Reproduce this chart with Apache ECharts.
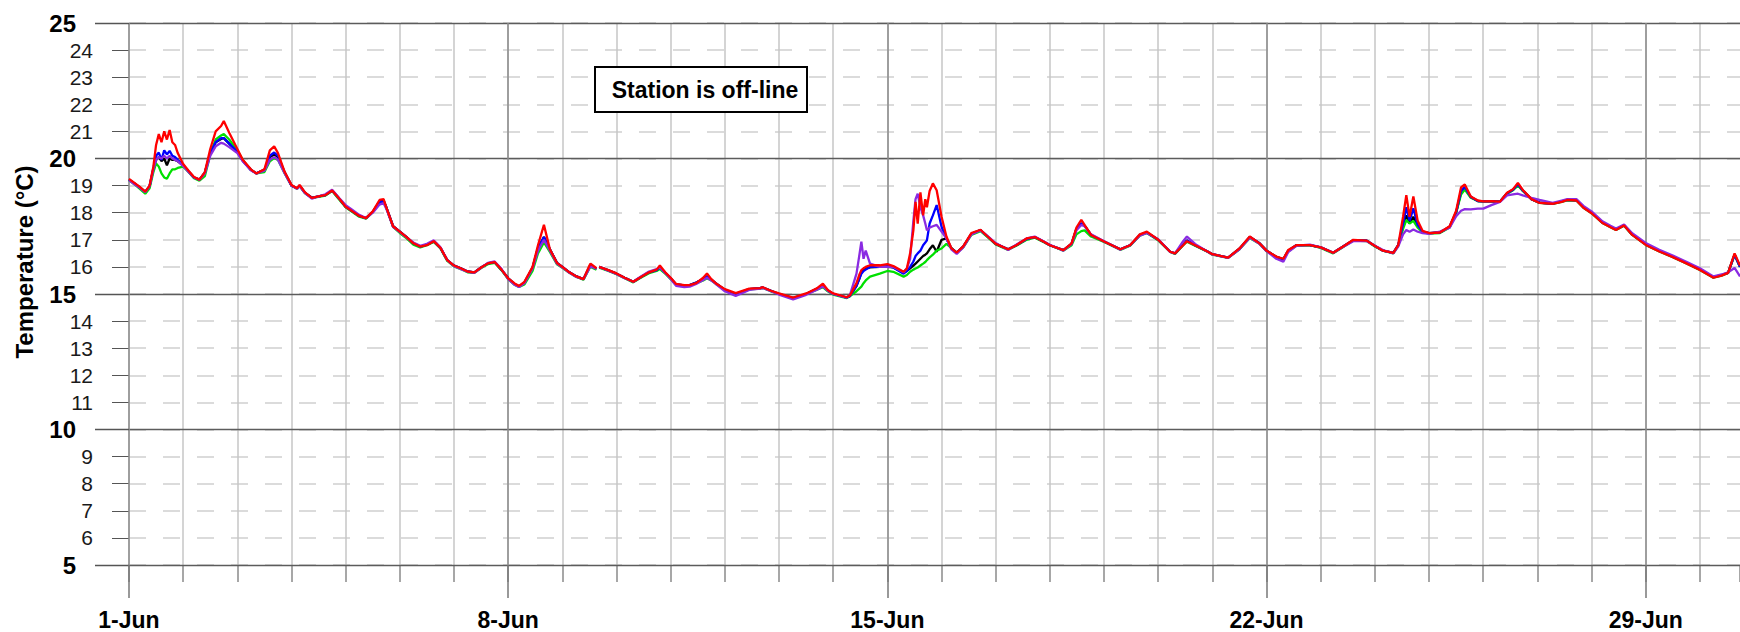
<!DOCTYPE html>
<html>
<head>
<meta charset="utf-8">
<script src="https://cdn.jsdelivr.net/npm/echarts@6/dist/echarts.min.js"></script>
<style>
html,body{margin:0;padding:0;background:#fff;}
#c{width:1740px;height:632px;}
</style>
</head>
<body>
<div id="c"></div>
<script>
// ---- data (days after 1-Jun 00:00, temperature in °C) ----
const days = [
0,0.1,0.2,0.3,0.38,0.45,0.5,0.55,0.6,0.65,
0.7,0.75,0.8,0.85,0.9,1.0,1.1,1.2,1.3,1.4,
1.5,1.6,1.7,1.75,1.85,2.0,2.1,2.25,2.35,2.5,
2.6,2.68,2.75,2.875,3.0,3.1,3.15,3.25,3.375,3.5,
3.625,3.75,3.875,4.0,4.125,4.25,4.375,4.5,4.625,4.7,
4.75,4.875,5.0,5.125,5.25,5.375,5.5,5.625,5.75,5.875,
6.0,6.125,6.25,6.375,6.5,6.625,6.75,6.875,7.0,7.125,
7.2,7.3,7.45,7.55,7.66,7.77,7.9,8.0,8.13,8.26,
8.39,8.5,8.52,8.63,8.655,8.68,8.85,9.0,9.15,9.31,
9.43,9.6,9.74,9.8,9.9,10.0,10.1,10.25,10.35,10.47,
10.6,10.67,10.75,10.83,11.0,11.2,11.45,11.65,11.7,11.85,
12.0,12.26,12.5,12.69,12.81,12.9,13.0,13.25,13.31,13.43,
13.48,13.52,13.56,13.6,13.68,13.86,14.0,14.11,14.3,14.36,
14.42,14.48,14.52,14.56,14.61,14.66,14.7,14.73,14.78,14.84,
14.91,15.0,15.09,15.18,15.28,15.4,15.55,15.72,15.84,16.0,
16.23,16.38,16.57,16.72,16.88,17.0,17.25,17.4,17.49,17.58,
17.64,17.76,18.0,18.3,18.48,18.66,18.79,19.0,19.22,19.31,
19.46,19.53,19.68,19.92,20.0,20.29,20.5,20.69,20.87,21.0,
21.18,21.31,21.4,21.55,21.8,22.0,22.23,22.45,22.6,22.85,
23.0,23.15,23.34,23.43,23.52,23.58,23.64,23.71,23.79,23.88,
24.0,24.2,24.38,24.5,24.59,24.66,24.77,24.9,25.0,25.15,
25.31,25.44,25.55,25.64,25.73,25.89,26.04,26.28,26.45,26.55,
26.72,26.85,27.0,27.2,27.35,27.45,27.6,27.75,28.0,28.25,
28.5,28.75,29.0,29.25,29.4,29.52,29.64,29.74
];

const red = [
19.25,19.1,18.95,18.78,19.0,19.7,20.5,20.9,20.6,21.0,
20.7,21.05,20.6,20.5,20.2,19.8,19.55,19.32,19.22,19.5,
20.35,21.0,21.2,21.38,20.95,20.35,19.95,19.6,19.45,19.6,
20.3,20.45,20.2,19.5,19.02,18.9,19.02,18.75,18.55,18.6,
18.65,18.82,18.53,18.22,18.05,17.88,17.8,18.05,18.47,18.5,
18.2,17.5,17.3,17.1,16.87,16.75,16.8,16.95,16.7,16.25,
16.05,15.95,15.83,15.8,15.98,16.13,16.18,15.9,15.58,15.38,
15.3,15.45,16.0,16.8,17.55,16.65,16.15,16.0,15.8,15.65,
15.55,16.05,16.12,15.95,null,16.0,15.88,15.76,15.6,15.45,
15.6,15.8,15.9,16.05,15.8,15.6,15.37,15.33,15.33,15.4,
15.6,15.76,15.55,15.4,15.18,15.03,15.2,15.22,15.25,15.12,
15.02,14.87,15.02,15.2,15.38,15.15,15.02,14.88,14.95,15.4,
15.7,15.88,15.95,16.0,16.06,16.06,16.1,16.03,15.82,15.94,
16.5,17.35,18.4,17.6,18.75,17.9,18.5,18.2,18.8,19.08,
18.83,17.85,17.12,16.69,16.53,16.76,17.25,17.37,17.14,16.85,
16.65,16.8,17.05,17.1,16.94,16.8,16.62,16.87,17.45,17.74,
17.55,17.18,16.94,16.65,16.8,17.2,17.3,17.0,16.56,16.5,
16.8,16.95,16.8,16.56,16.47,16.34,16.68,17.12,16.87,16.6,
16.38,16.3,16.62,16.8,16.8,16.72,16.52,16.8,17.0,16.97,
16.77,16.6,16.52,16.8,17.85,18.65,17.85,18.6,17.7,17.33,
17.25,17.27,17.5,18.07,18.93,19.04,18.6,18.45,18.42,18.43,
18.41,18.74,18.87,19.1,18.84,18.5,18.36,18.33,18.4,18.47,
18.45,18.18,17.98,17.62,17.46,17.36,17.53,17.18,16.81,16.57,
16.36,16.13,15.89,15.6,15.68,15.78,16.5,16.05
];

const purple = [
19.2,19.05,18.92,18.76,18.98,19.6,19.95,20.05,20.0,20.1,
20.0,20.1,20.0,19.95,19.9,19.72,19.5,19.3,19.22,19.45,
20.1,20.45,20.58,20.55,20.42,20.2,19.9,19.57,19.45,19.55,
19.95,20.05,19.95,19.45,19.0,18.88,18.98,18.72,18.52,18.6,
18.68,18.85,18.55,18.28,18.1,17.92,17.8,18.0,18.3,18.35,
18.15,17.48,17.28,17.08,16.9,16.78,16.85,16.98,16.72,16.25,
16.03,15.92,15.82,15.78,15.97,16.15,16.2,15.93,15.55,15.33,
15.26,15.4,15.95,16.6,17.0,16.6,16.12,15.98,15.78,15.63,
15.55,15.95,16.02,15.93,null,16.0,15.86,15.74,15.58,15.45,
15.62,15.83,15.92,15.98,15.78,15.55,15.3,15.25,15.27,15.37,
15.52,15.6,15.5,15.37,15.1,14.93,15.15,15.2,15.22,15.1,
14.98,14.8,14.97,15.15,15.28,15.12,15.0,14.87,14.97,15.75,
16.4,16.93,16.3,16.6,16.12,16.0,16.0,16.0,15.8,15.95,
16.3,17.7,18.5,18.7,18.2,17.9,17.6,17.35,17.45,17.5,
17.55,17.3,17.05,16.65,16.48,16.72,17.2,17.35,17.15,16.88,
16.62,16.82,17.05,17.12,16.95,16.82,16.6,16.85,17.35,17.55,
17.5,17.2,16.95,16.63,16.8,17.15,17.25,17.02,16.55,16.5,
16.95,17.12,16.85,16.55,16.46,16.33,16.65,17.08,16.85,16.58,
16.3,16.19,16.55,16.78,16.82,16.72,16.52,16.78,16.95,16.95,
16.78,16.62,16.5,16.75,17.2,17.36,17.3,17.38,17.3,17.25,
17.22,17.3,17.45,17.87,18.07,18.13,18.12,18.15,18.15,18.28,
18.4,18.64,18.68,18.7,18.64,18.55,18.47,18.36,18.45,18.5,
18.5,18.25,18.05,17.68,17.52,17.42,17.56,17.24,16.88,16.63,
16.42,16.19,15.95,15.65,15.72,15.8,15.96,15.65
];

const blue = [
19.22,19.08,18.93,18.77,18.98,19.65,20.1,20.22,19.95,20.3,
20.15,20.28,20.1,20.05,19.95,19.76,19.52,19.3,19.22,19.48,
20.2,20.6,20.75,20.75,20.55,20.25,19.92,19.58,19.45,19.58,
20.1,20.22,20.1,19.48,19.0,18.9,19.0,18.73,18.55,18.6,
18.65,18.82,18.53,18.22,18.05,17.88,17.8,18.03,18.4,18.42,
18.2,17.5,17.3,17.1,16.87,16.75,16.82,16.95,16.7,16.25,
16.05,15.95,15.83,15.8,15.98,16.13,16.18,15.9,15.58,15.36,
15.28,15.42,15.97,16.7,17.1,16.65,16.15,16.0,15.8,15.65,
15.55,16.0,16.05,15.93,null,16.0,15.87,15.75,15.6,15.45,
15.6,15.8,15.88,15.98,15.78,15.58,15.35,15.32,15.33,15.42,
15.55,15.65,15.53,15.4,15.15,15.0,15.18,15.22,15.24,15.12,
15.0,14.85,15.0,15.18,15.3,15.13,15.0,14.87,14.93,15.3,
15.55,15.75,15.85,15.9,16.0,16.0,16.03,15.98,15.75,15.85,
16.0,16.2,16.4,16.5,16.6,16.8,16.9,16.98,17.6,17.9,
18.28,17.48,17.05,16.69,16.53,16.75,17.22,17.36,17.14,16.85,
16.65,16.8,17.03,17.1,16.94,16.8,16.62,16.85,17.4,17.6,
17.52,17.18,16.94,16.65,16.8,17.18,17.27,17.0,16.56,16.5,
16.82,16.97,16.8,16.56,16.47,16.34,16.67,17.1,16.87,16.6,
16.37,16.28,16.6,16.8,16.8,16.72,16.52,16.8,16.98,16.97,
16.77,16.6,16.52,16.8,17.6,18.2,17.7,18.16,17.55,17.3,
17.25,17.27,17.48,18.02,18.8,18.95,18.58,18.43,18.42,18.43,
18.41,18.72,18.85,19.05,18.82,18.5,18.37,18.33,18.42,18.47,
18.46,18.2,18.0,17.64,17.48,17.38,17.54,17.2,16.83,16.59,
16.38,16.15,15.91,15.62,15.7,15.78,16.45,16.0
];

const green = [
19.2,19.05,18.88,18.7,18.9,19.5,19.82,19.7,19.45,19.3,
19.25,19.45,19.6,19.6,19.65,19.7,19.5,19.27,19.18,19.35,
20.15,20.7,20.85,20.9,20.7,20.3,19.95,19.58,19.45,19.5,
19.9,20.02,19.95,19.45,19.0,18.88,18.98,18.72,18.55,18.58,
18.63,18.8,18.5,18.2,18.02,17.85,17.78,18.02,18.38,18.4,
18.18,17.48,17.25,17.05,16.82,16.72,16.8,16.92,16.68,16.22,
16.02,15.92,15.8,15.78,15.96,16.1,16.15,15.88,15.55,15.33,
15.26,15.35,15.85,16.5,16.9,16.55,16.1,15.97,15.78,15.63,
15.53,15.95,16.0,15.9,null,15.97,15.85,15.73,15.58,15.43,
15.58,15.77,15.85,15.92,15.75,15.55,15.33,15.3,15.32,15.4,
15.5,15.58,15.5,15.38,15.15,15.0,15.17,15.2,15.22,15.1,
15.0,14.85,15.0,15.15,15.25,15.1,14.98,14.85,14.92,15.1,
15.2,15.27,15.4,15.5,15.64,15.75,15.85,15.82,15.64,15.7,
15.82,15.9,15.94,15.98,16.05,16.12,16.18,16.25,16.35,16.45,
16.6,16.68,16.85,16.7,16.52,16.72,17.18,17.32,17.12,16.83,
16.63,16.78,17.0,17.08,16.92,16.8,16.6,16.8,17.2,17.32,
17.35,17.12,16.92,16.63,16.78,17.15,17.25,16.98,16.55,16.48,
16.8,16.93,16.78,16.55,16.45,16.33,16.65,17.07,16.85,16.58,
16.37,16.28,16.58,16.78,16.8,16.7,16.5,16.78,16.97,16.95,
16.75,16.6,16.5,16.78,17.4,17.73,17.6,17.7,17.45,17.28,
17.23,17.25,17.45,18.0,18.67,18.85,18.55,18.43,18.42,18.43,
18.41,18.7,18.83,19.0,18.8,18.5,18.36,18.33,18.4,18.45,
18.45,18.18,17.98,17.62,17.46,17.36,17.52,17.18,16.81,16.57,
16.36,16.13,15.89,15.6,15.68,15.78,16.45,16.0
];

const black = [
19.22,19.08,18.93,18.77,18.98,19.6,19.95,20.05,19.9,20.0,
19.75,20.0,19.95,19.95,19.9,19.75,19.52,19.3,19.22,19.48,
20.2,20.6,20.72,20.75,20.55,20.25,19.92,19.58,19.45,19.58,
20.05,20.15,20.05,19.48,19.0,18.9,19.0,18.73,18.55,18.6,
18.65,18.82,18.53,18.22,18.05,17.88,17.8,18.03,18.42,18.45,
18.2,17.5,17.3,17.1,16.87,16.75,16.82,16.95,16.7,16.25,
16.05,15.95,15.83,15.8,15.98,16.13,16.18,15.9,15.58,15.36,
15.28,15.42,15.97,16.7,17.1,16.65,16.15,16.0,15.8,15.65,
15.55,16.0,16.05,15.93,null,16.0,15.87,15.75,15.6,15.45,
15.6,15.8,15.88,15.98,15.78,15.58,15.35,15.32,15.33,15.42,
15.55,15.65,15.53,15.4,15.15,15.0,15.18,15.22,15.24,15.12,
15.0,14.85,15.0,15.18,15.3,15.13,15.0,14.87,14.93,15.3,
15.55,15.8,15.9,15.95,15.98,16.0,16.0,15.98,15.78,15.85,
15.95,16.05,16.12,16.2,16.3,16.4,16.45,16.5,16.65,16.8,
16.56,17.0,17.05,16.69,16.53,16.75,17.22,17.36,17.14,16.85,
16.65,16.8,17.03,17.1,16.94,16.8,16.62,16.85,17.4,17.6,
17.52,17.18,16.94,16.65,16.8,17.18,17.27,17.0,16.56,16.5,
16.82,16.97,16.8,16.56,16.47,16.34,16.67,17.1,16.87,16.6,
16.37,16.28,16.6,16.8,16.8,16.72,16.52,16.8,16.98,16.97,
16.77,16.6,16.52,16.8,17.5,17.9,17.6,17.85,17.5,17.3,
17.25,17.27,17.48,18.02,18.75,18.9,18.58,18.43,18.42,18.43,
18.41,18.72,18.85,19.05,18.82,18.5,18.37,18.33,18.42,18.47,
18.46,18.2,18.0,17.64,17.48,17.38,17.54,17.2,16.83,16.59,
16.38,16.15,15.91,15.62,15.7,15.78,16.45,16.0
];

const weekLabels = ['1-Jun', '8-Jun', '15-Jun', '22-Jun', '29-Jun'];
const yTitle = 'Temperature (°C)';
const noteText = 'Station is off-line';

// ---- chart ----
const FONT = '"Liberation Sans", Arial, Helvetica, sans-serif';
const chart = echarts.init(document.getElementById('c'), null, {renderer: 'svg'});

function pairs(vals) {
  return days.map((d, i) => [d, vals[i] === null ? '-' : vals[i]]);
}

const seriesDefs = [
  {name: 'black', color: '#000000', vals: black},
  {name: 'green', color: '#00e000', vals: green},
  {name: 'blue', color: '#0000ff', vals: blue},
  {name: 'purple', color: '#8a2be2', vals: purple},
  {name: 'red', color: '#ff0000', vals: red}
];

const X_MAX = 29.74;

const option = {
  animation: false,
  backgroundColor: '#ffffff',
  textStyle: {fontFamily: FONT},
  grid: {left: 129, right: 0, top: 23, bottom: 67, containLabel: false, outerBoundsMode: 'none'},
  xAxis: [
    {
      type: 'value', min: 0, max: X_MAX, interval: 1, position: 'bottom',
      axisLine: {show: false},
      axisTick: {show: true, length: 17, lineStyle: {color: '#8a8a8a', width: 1.5}},
      axisLabel: {show: false},
      splitLine: {show: true, showMaxLine: false, lineStyle: {color: '#c6c6c6', width: 1.5}}
    },
    {
      type: 'value', min: 0, max: X_MAX, interval: 7, position: 'bottom', z: 1,
      axisLine: {show: false},
      axisTick: {show: true, length: 33, lineStyle: {color: '#777777', width: 1.5}},
      axisLabel: {
        show: true, margin: 43, fontSize: 23, fontWeight: 'bold', color: '#000', fontFamily: FONT,
        showMaxLabel: false,
        formatter: function (v) {
          const k = Math.round(v / 7);
          return Math.abs(v - k * 7) < 1e-6 && weekLabels[k] ? weekLabels[k] : '';
        }
      },
      splitLine: {show: true, showMaxLine: false, lineStyle: {color: '#8c8c8c', width: 1.5}}
    }
  ],
  yAxis: [
    {
      type: 'value', min: 5, max: 25, interval: 1, position: 'left',
      axisLine: {show: false},
      axisTick: {show: true, length: 17, lineStyle: {color: '#555', width: 1}},
      axisLabel: {
        show: true, margin: 36, fontFamily: FONT,
        formatter: function (v) {
          return (v % 5 === 0) ? '{major|' + v + '}' : '{minor|' + v + '}';
        },
        rich: {
          major: {fontSize: 24, fontWeight: 'bold', color: '#000', fontFamily: FONT, padding: [0, 17, 0, 0]},
          minor: {fontSize: 21, color: '#1a1a1a', fontFamily: FONT}
        }
      },
      splitLine: {show: true, lineStyle: {color: '#cfcfcf', width: 1.5, type: [17, 17]}}
    },
    {
      type: 'value', min: 5, max: 25, interval: 5, position: 'left', z: 1,
      axisLine: {show: false},
      axisTick: {show: true, length: 34, lineStyle: {color: '#555', width: 1.3}},
      axisLabel: {show: false},
      splitLine: {show: true, lineStyle: {color: '#5c5c5c', width: 1.3}}
    }
  ],
  graphic: [
    {
      type: 'text', x: 24, y: 262, rotation: Math.PI / 2,
      style: {text: yTitle, fontSize: 24, fontWeight: 'bold', fill: '#000', fontFamily: FONT,
              align: 'center', verticalAlign: 'middle'}
    },
    {
      type: 'rect', z: 100,
      shape: {x: 595, y: 67, width: 212, height: 45},
      style: {fill: '#ffffff', stroke: '#000000', lineWidth: 2}
    },
    {
      type: 'text', z: 101, x: 705, y: 89.5,
      style: {text: noteText, fontSize: 23, fontWeight: 'bold', fill: '#000', fontFamily: FONT,
              align: 'center', verticalAlign: 'middle'}
    }
  ],
  series: seriesDefs.map((s, i) => ({
    name: s.name, type: 'line', xAxisIndex: 0, yAxisIndex: 0,
    data: pairs(s.vals), showSymbol: false, symbol: 'none', z: 2 + i,
    connectNulls: false,
    lineStyle: {color: s.color, width: 2.3},
    itemStyle: {color: s.color},
    emphasis: {disabled: true}
  }))
};

chart.setOption(option);
</script>
</body>
</html>
